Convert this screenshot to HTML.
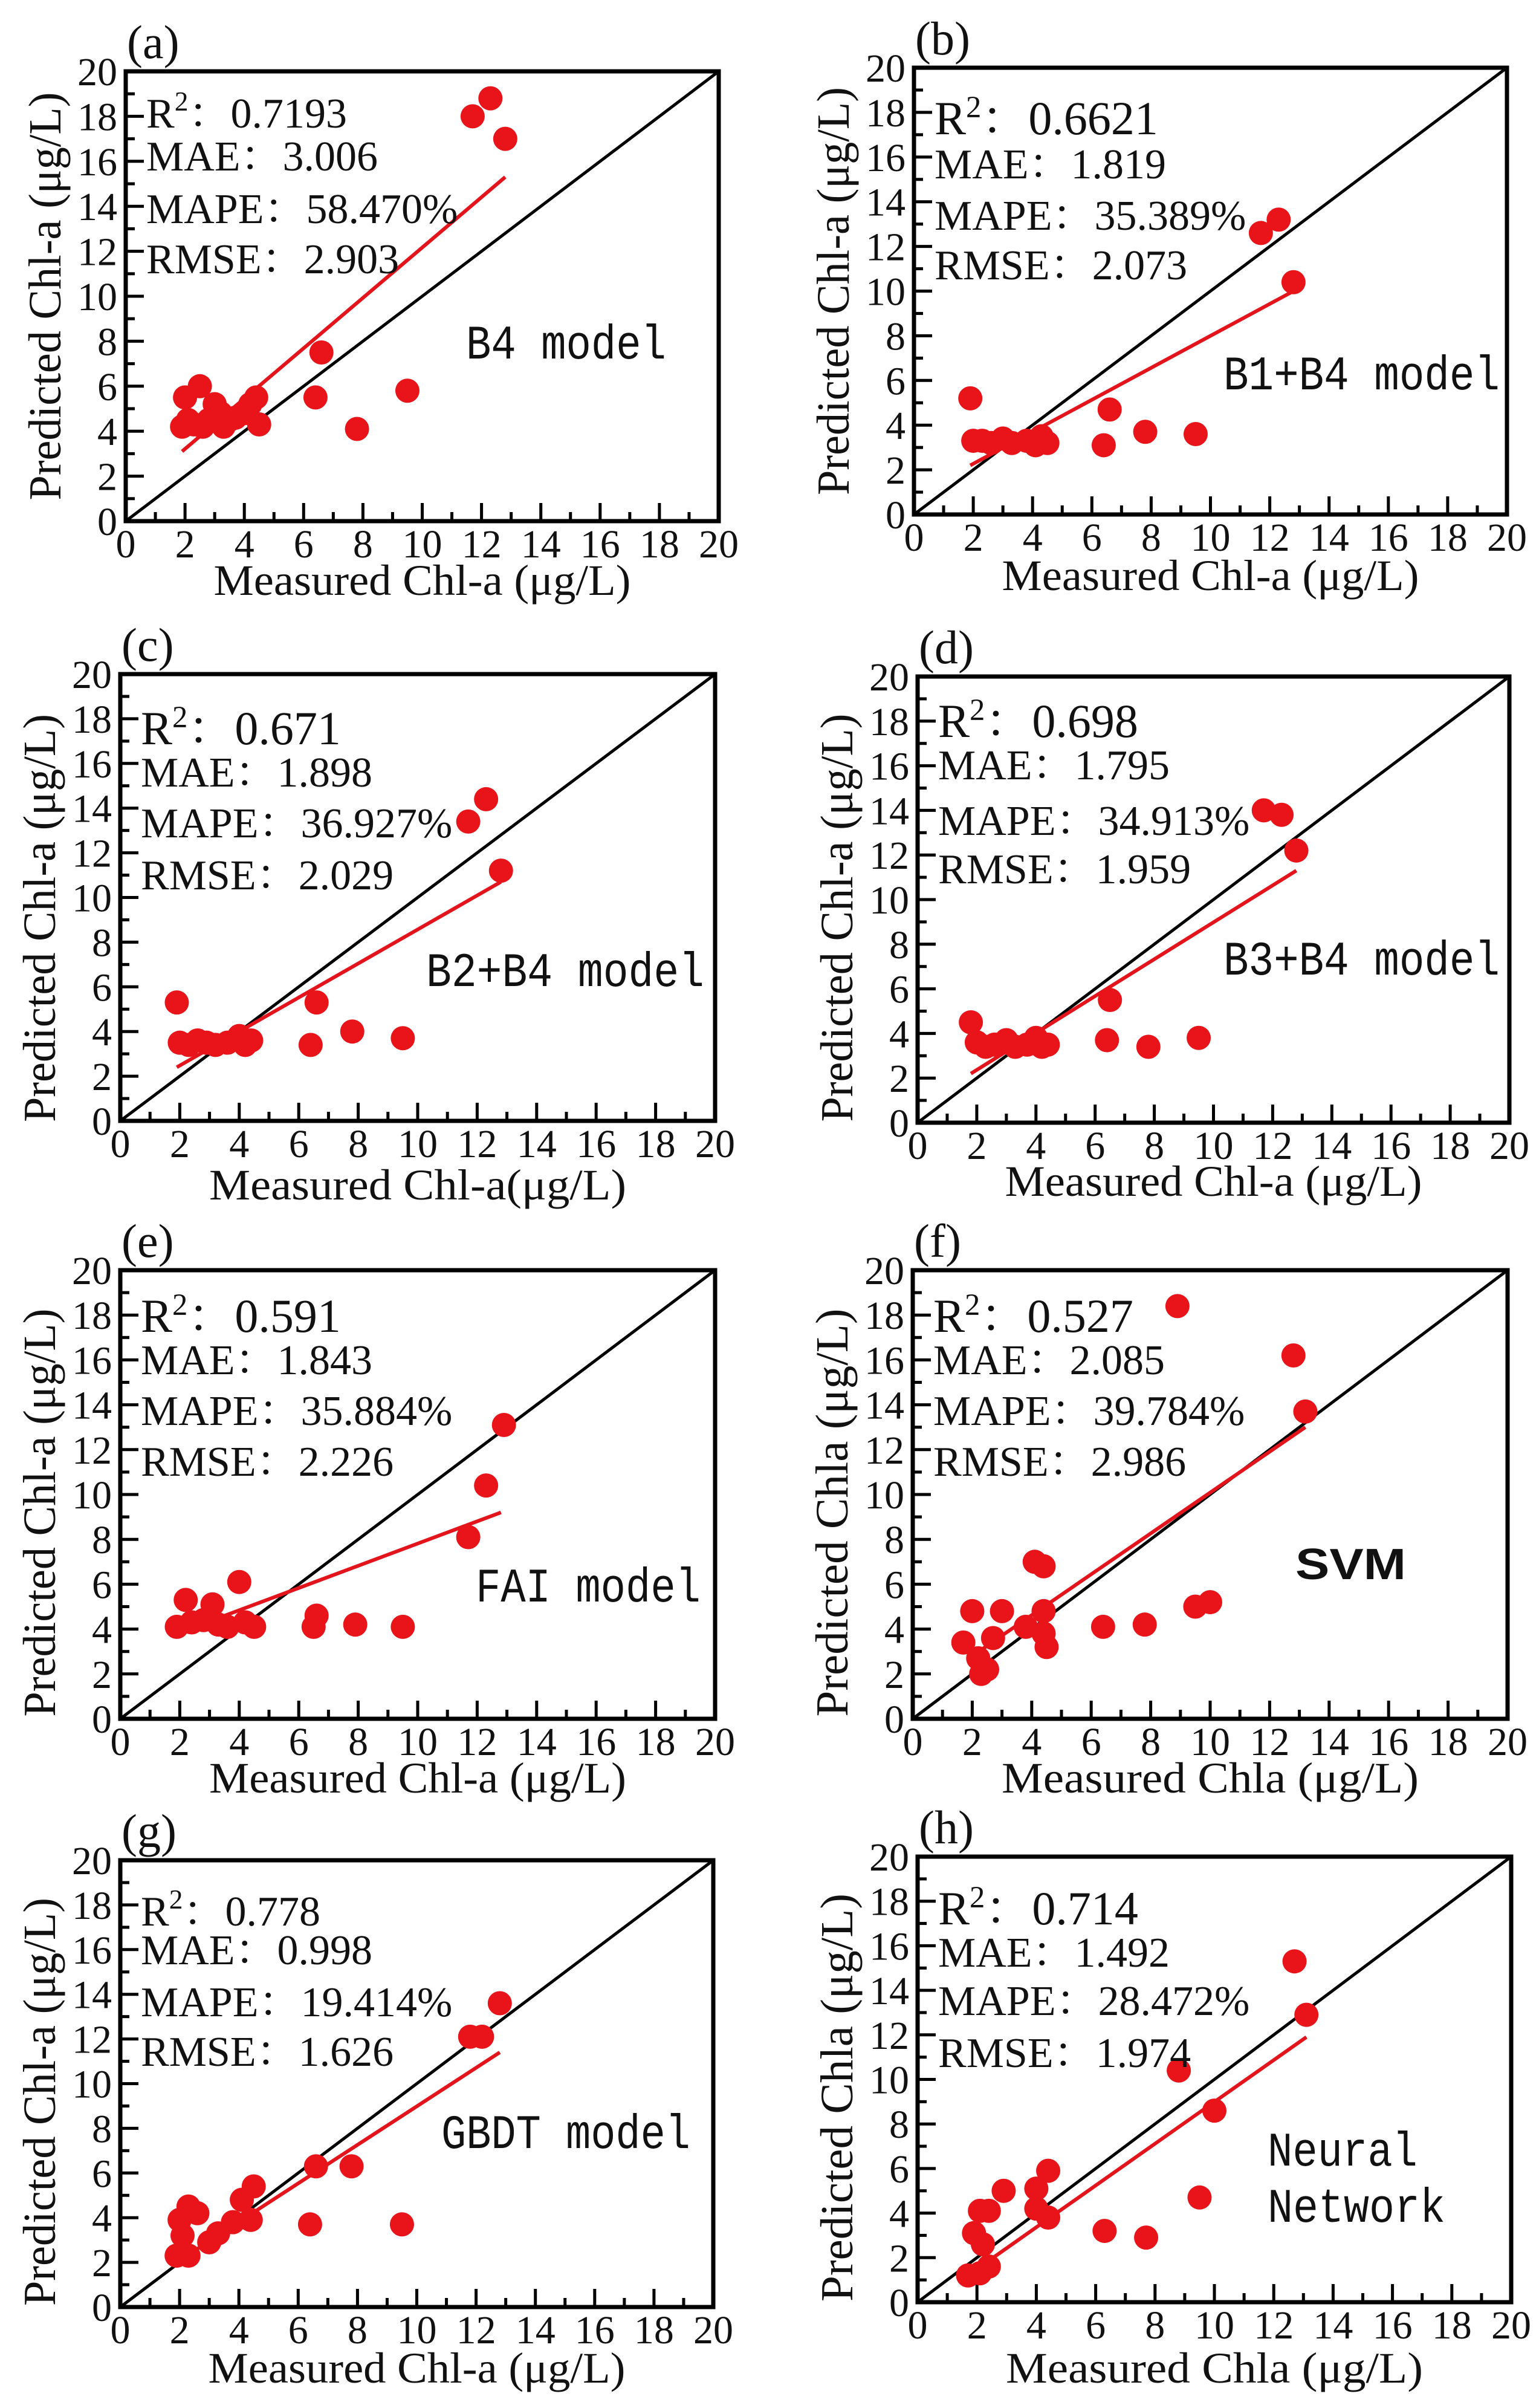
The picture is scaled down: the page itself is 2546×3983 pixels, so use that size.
<!DOCTYPE html>
<html><head><meta charset="utf-8"><style>
html,body{margin:0;padding:0;background:#fff;}
svg{display:block;}
text{font-family:"Liberation Serif","Noto Serif CJK SC",serif;fill:#111;}
</style></head><body>
<svg id="fig" width="2546" height="3983" viewBox="0 0 2546 3983" xmlns="http://www.w3.org/2000/svg"></svg>
<script>
// ---- data ----
const ticks=[0,2,4,6,8,10,12,14,16,18,20];
const aX=[1.9,2,2.1,2.3,2.5,2.6,2.8,3,3.2,3.3,3.5,3.7,4,4.2,4.4,4.5,6.4,6.6,7.8,9.5,11.7,12.3,12.8];
const aY=[4.2,5.5,4.5,4.3,6,4.2,4.5,5.2,4.8,4.2,4.5,4.6,4.8,5.2,5.5,4.3,5.5,7.5,4.1,5.8,18,18.8,17];
const aFit=[1.9,3.1,12.8,15.3];
const bX=[1.9,2,2.3,2.6,3,3.3,3.8,4.1,4.3,4.5,6.4,6.6,7.8,9.5,11.7,12.3,12.8];
const bY=[5.2,3.3,3.3,3.2,3.4,3.2,3.3,3.1,3.5,3.2,3.1,4.7,3.7,3.6,12.6,13.2,10.4];
const bFit=[1.9,2.2,12.8,10];
const cX=[1.9,2,2.3,2.6,2.9,3.2,3.6,4,4.2,4.4,6.6,6.4,7.8,9.5,11.7,12.3,12.8];
const cY=[5.3,3.5,3.4,3.6,3.5,3.4,3.5,3.8,3.4,3.6,5.3,3.4,4.0,3.7,13.4,14.4,11.2];
const cFit=[1.9,2.4,12.8,10.7];
const dX=[1.8,2,2.3,2.6,3,3.3,3.7,4,4.2,4.4,6.5,6.4,7.8,9.5,11.7,12.3,12.8];
const dY=[4.5,3.6,3.4,3.5,3.7,3.4,3.5,3.8,3.4,3.5,5.5,3.7,3.4,3.8,14.0,13.8,12.2];
const dFit=[1.8,2.2,12.8,11.3];
const eX=[2.2,1.9,2.4,3.1,2.8,3.3,3.6,4.0,4.2,4.5,6.6,6.5,7.9,9.5,11.7,12.3,12.9];
const eY=[5.3,4.1,4.3,5.1,4.4,4.2,4.1,6.1,4.3,4.1,4.6,4.1,4.2,4.1,8.1,10.4,13.1];
const eFit=[1.9,3.8,12.8,9.2];
const fX=[8.9,12.8,13.2,4.1,4.4,2.0,3.0,1.7,2.2,2.5,2.3,2.7,3.8,4.4,4.4,4.5,6.4,7.8,9.5,10.0];
const fY=[18.4,16.2,13.7,7.0,6.8,4.8,4.8,3.4,2.7,2.2,2.0,3.6,4.1,4.8,3.8,3.2,4.1,4.2,5.0,5.2];
const fFit=[2,2.8,13.2,13.0];
const gX=[1.9,2.3,2.0,2.3,2.6,2.1,3.0,3.3,3.8,4.1,4.4,4.5,6.6,6.4,7.8,9.5,11.8,12.2,12.8];
const gY=[2.3,2.3,3.9,4.5,4.2,3.2,2.9,3.3,3.8,4.8,3.9,5.4,6.3,3.7,6.3,3.7,12.1,12.1,13.6];
const gFit=[1.9,2.0,12.8,11.4];
const hX=[1.7,2.1,2.4,1.9,2.2,2.1,2.4,2.9,4.0,4.4,4.0,4.4,6.3,7.7,8.8,9.5,10.0,12.7,13.1];
const hY=[1.2,1.3,1.6,3.1,2.6,4.1,4.1,5.0,5.1,5.9,4.2,3.8,3.2,2.9,10.4,4.7,8.6,15.3,12.9];
const hFit=[1.8,1.3,13.1,11.9];

const NS="http://www.w3.org/2000/svg";
const svg=document.getElementById('fig');
function mk(tag,attrs,parent){const e=document.createElementNS(NS,tag);for(const k in attrs)e.setAttribute(k,attrs[k]);(parent||svg).appendChild(e);return e;}

const panels=[
 {id:'a',L:208,R:1189,T:118,B:862,xs:aX,ys:aY,fit:aFit,stats:['0.7193','3.006','58.470%','2.903'],off:[93,164,251,334],r2big:false,
  model:['B4 model'],mw:[331],mx:771,my:475,xt:'Measured Chl-a (μg/L)',yt:'Predicted Chl-a (μg/L)',ytc:0,xtb:122},
 {id:'b',L:1512,R:2493,T:112,B:851,xs:bX,ys:bY,fit:bFit,stats:['0.6621','1.819','35.389%','2.073'],off:[110,183,268,350],r2big:true,
  model:['B1+B4 model'],mw:[457],mx:2024,my:532,xt:'Measured Chl-a (μg/L)',yt:'Predicted Chl-a (μg/L)',ytc:0,xtb:125},
 {id:'c',L:199,R:1183,T:1115,B:1854,xs:cX,ys:cY,fit:cFit,stats:['0.671','1.898','36.927%','2.029'],off:[116,186,270,356],r2big:true,
  model:['B2+B4 model'],mw:[460],mx:705,my:516,xt:'Measured Chl-a(μg/L)',yt:'Predicted Chl-a (μg/L)',ytc:34,xtb:130},
 {id:'d',L:1518,R:2497,T:1119,B:1857,xs:dX,ys:dY,fit:dFit,stats:['0.698','1.795','34.913%','1.959'],off:[100,170,262,342],r2big:true,
  model:['B3+B4 model'],mw:[457],mx:2024,my:493,xt:'Measured Chl-a (μg/L)',yt:'Predicted Chl-a (μg/L)',ytc:30,xtb:121},
 {id:'e',L:199,R:1183,T:2101,B:2843,xs:eX,ys:eY,fit:eFit,stats:['0.591','1.843','35.884%','2.226'],off:[102,172,256,340],r2big:true,
  model:['FAI model'],mw:[372],mx:787,my:548,xt:'Measured Chl-a (μg/L)',yt:'Predicted Chl-a (μg/L)',ytc:30,xtb:122},
 {id:'f',L:1510,R:2494,T:2101,B:2843,xs:fX,ys:fY,fit:fFit,stats:['0.527','2.085','39.784%','2.986'],off:[102,172,256,340],r2big:true,
  model:['SVM'],mw:[183],mx:2143,my:511,svm:true,xt:'Measured Chla (μg/L)',yt:'Predicted Chla (μg/L)',ytc:30,xtb:122},
 {id:'g',L:199,R:1180,T:3077,B:3816,xs:gX,ys:gY,fit:gFit,stats:['0.778','0.998','19.414%','1.626'],off:[108,172,258,340],r2big:false,
  model:['GBDT model'],mw:[412],mx:730,my:476,xt:'Measured Chl-a (μg/L)',yt:'Predicted Chl-a (μg/L)',ytc:30,xtb:125},
 {id:'h',L:1518,R:2500,T:3071,B:3808,xs:hX,ys:hY,fit:hFit,stats:['0.714','1.492','28.472%','1.974'],off:[112,182,262,348],r2big:true,
  model:['Neural','Network'],mw:[248,294],mx:2097,my:511,xt:'Measured Chla (μg/L)',yt:'Predicted Chla (μg/L)',ytc:30,xtb:133}
];

panels.forEach(p=>{
  const g=mk('g',{});
  
  
  const sx=v=>p.L+(v/20)*(p.R-p.L);
  const sy=v=>p.B-(v/20)*(p.B-p.T);
  const lab=mk('text',{x:p.L+2,y:p.T-22,'font-size':78},g);
  lab.textContent='('+p.id+')';
  
  
  const d=mk('line',{x1:sx(0),y1:sy(0),x2:sx(20),y2:sy(20),stroke:'#000','stroke-width':5},g);
  
  
  for(let v=0;v<=20;v++){
    const major=v%2===0, len=major?30:15;
    const tx=mk('line',{x1:sx(v),y1:p.B,x2:sx(v),y2:p.B-len,stroke:'#000','stroke-width':5},g);
    
    
    const ty=mk('line',{x1:p.L,y1:sy(v),x2:p.L+len,y2:sy(v),stroke:'#000','stroke-width':5},g);
    
    
  }
  ticks.forEach(v=>{
    const tl=mk('text',{x:sx(v),y:p.B+60,'font-size':66,'text-anchor':'middle'},g);
    tl.textContent=String(v);
    
    
    const yl=mk('text',{x:p.L-14,y:sy(v)+23,'font-size':66,'text-anchor':'end'},g);
    yl.textContent=String(v);
    
    
  });
  const fr=mk('rect',{x:p.L,y:p.T,width:p.R-p.L,height:p.B-p.T,fill:'none',stroke:'#000','stroke-width':7},g);
  
  
  const f=mk('line',{x1:sx(p.fit[0]),y1:sy(p.fit[1]),x2:sx(p.fit[2]),y2:sy(p.fit[3]),stroke:'#e3141b','stroke-width':6},g);
  
  
  p.xs.forEach((xv,i)=>{
    const c=mk('circle',{cx:sx(xv),cy:sy(p.ys[i]),r:20,fill:'#e8141a'},g);
    
    
  });
  const names=['R','MAE：','MAPE：','RMSE：'];
  p.stats.forEach((s,i)=>{
    const t=mk('text',{x:p.L+34,y:p.T+p.off[i],'font-size':(i===0&&p.r2big)?78:70},g);
    if(i===0){
      t.innerHTML='R<tspan dy="-28" font-size="0.65em">2</tspan><tspan dy="28">：'+s+'</tspan>';
    } else t.textContent=names[i]+s;
    
    
  });
  p.model.forEach((m,i)=>{
    const t=mk('text',{x:p.mx,y:p.T+p.my+i*93,'font-size':p.svm?72:80,textLength:p.mw[i],lengthAdjust:'spacingAndGlyphs'},g);
    if(p.svm){t.setAttribute('style','font-family:"Liberation Sans",sans-serif;font-weight:bold');}
    else t.setAttribute('style','font-family:"Liberation Mono",monospace');
    t.textContent=m;
    
    
  });
  const xt=mk('text',{x:(p.L+p.R)/2,y:p.B+p.xtb,'font-size':72,'text-anchor':'middle',textLength:690,lengthAdjust:'spacingAndGlyphs'},g);
  xt.textContent=p.xt;
  
  
  const cy=(p.T+p.B)/2+p.ytc, bx=p.L-108;
  const yt=mk('text',{x:bx,y:cy,'font-size':76,'text-anchor':'middle',transform:`rotate(-90 ${bx} ${cy})`,textLength:675,lengthAdjust:'spacingAndGlyphs'},g);
  yt.textContent=p.yt;
  
  
});
</script>
</body></html>
